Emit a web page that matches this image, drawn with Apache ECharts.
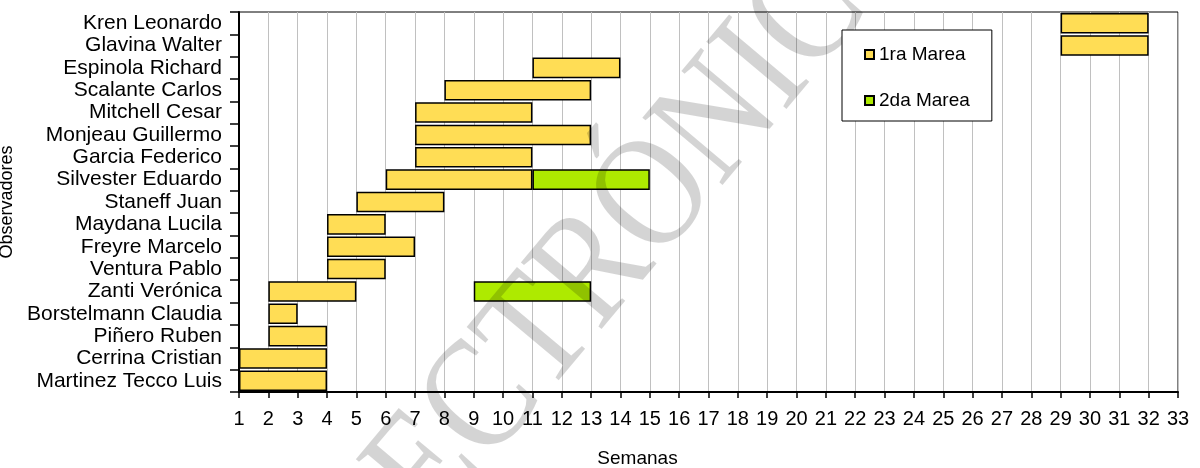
<!DOCTYPE html>
<html>
<head>
<meta charset="utf-8">
<script src="https://cdn.jsdelivr.net/npm/echarts@6/dist/echarts.min.js"></script>
<style>html,body{margin:0;padding:0;background:#fff;}#c{width:1200px;height:468px;}</style>
</head>
<body>
<div id="c"></div>
<script>
// Observers, top to bottom
const categories = ["Kren Leonardo","Glavina Walter","Espinola Richard","Scalante Carlos","Mitchell Cesar","Monjeau Guillermo","Garcia Federico","Silvester Eduardo","Staneff Juan","Maydana Lucila","Freyre Marcelo","Ventura Pablo","Zanti Verónica","Borstelmann Claudia","Piñero Ruben","Cerrina Cristian","Martinez Tecco Luis"];
// 1ra Marea: start / end week
const start1 = [29,29,11,8,7,7,7,6,5,4,4,4,2,2,2,1,1];
const end1   = [32,32,14,13,11,13,11,11,8,6,7,6,5,3,4,4,4];
// 2da Marea: start / end week
const start2 = [null,null,null,null,null,null,null,11,null,null,null,null,9,null,null,null,null];
const end2   = [null,null,null,null,null,null,null,15,null,null,null,null,13,null,null,null,null];
const seriesNames = ["1ra Marea","2da Marea"];
const xMin = 1, xMax = 33;

const offset1 = start1.slice();
const dur1 = start1.map((s,i)=> end1[i]-s);
const gap2 = start2.map((s,i)=> s==null ? '-' : s-end1[i]);
const dur2 = start2.map((s,i)=> s==null ? '-' : end2[i]-s);

const FONT = "'Liberation Sans', Arial, sans-serif";
const chart = echarts.init(document.getElementById('c'), null, {renderer:'canvas'});
const border = {borderColor:'#000', borderWidth:1.5};
chart.setOption({
  animation:false,
  backgroundColor:'#fff',
  grid:{left:239, right:22, top:12, bottom:76, show:true, borderColor:'#000', borderWidth:1, backgroundColor:'transparent', outerBoundsMode:'none', containLabel:false},
  legend:{
    data:seriesNames, orient:'vertical', left:842, top:30, z:200,
    padding:[15,22,11,22], itemGap:27, itemWidth:9, itemHeight:9, icon:'rect',
    backgroundColor:'#fff', borderColor:'#000', borderWidth:1,
    textStyle:{fontFamily:FONT, fontSize:19, color:'#000'}
  },
  xAxis:{
    type:'value', min:xMin, max:xMax, interval:1,
    name:'Semanas', nameLocation:'middle', nameGap:57,
    nameTextStyle:{fontFamily:FONT, fontSize:19, color:'#000', padding:[0,142,0,0]},
    axisLine:{show:true, lineStyle:{color:'#000', width:2}},
    axisTick:{show:true, length:6, lineStyle:{color:'#000', width:1.5}},
    axisLabel:{fontFamily:FONT, fontSize:20, color:'#000', margin:17},
    splitLine:{show:true, lineStyle:{color:'#c0c0c0', width:1}}
  },
  yAxis:{
    type:'category', data:categories, inverse:true,
    name:'Observadores', nameLocation:'middle', nameGap:210,
    nameTextStyle:{fontFamily:FONT, fontSize:18, color:'#000'},
    axisLine:{show:true, lineStyle:{color:'#000', width:2}},
    axisTick:{show:true, length:9, interval:0, lineStyle:{color:'#000', width:1.5}},
    axisLabel:{fontFamily:FONT, fontSize:21, color:'#000', margin:17, interval:0},
    splitLine:{show:false}
  },
  series:[
    {name:'off1', type:'bar', stack:'g', data:offset1, itemStyle:{color:'transparent'}, barCategoryGap:'8%', silent:true},
    {name:seriesNames[0], type:'bar', stack:'g', data:dur1, itemStyle:Object.assign({color:'#FFDD55'}, border)},
    {name:'off2', type:'bar', stack:'g', data:gap2, itemStyle:{color:'transparent'}, silent:true},
    {name:seriesNames[1], type:'bar', stack:'g', data:dur2, itemStyle:Object.assign({color:'#AEEA00'}, border)}
  ],
  graphic:[{
    type:'text', x:598, y:268, rotation:50*Math.PI/180, scaleX:0.85, scaleY:1, z:100, silent:true,
    style:{text:'ELECTRÓNICO', font:"160px 'Liberation Serif', 'Times New Roman', serif", fill:'rgba(0,0,0,0.17)', align:'center', verticalAlign:'middle'}
  }]
});
</script>
</body>
</html>
